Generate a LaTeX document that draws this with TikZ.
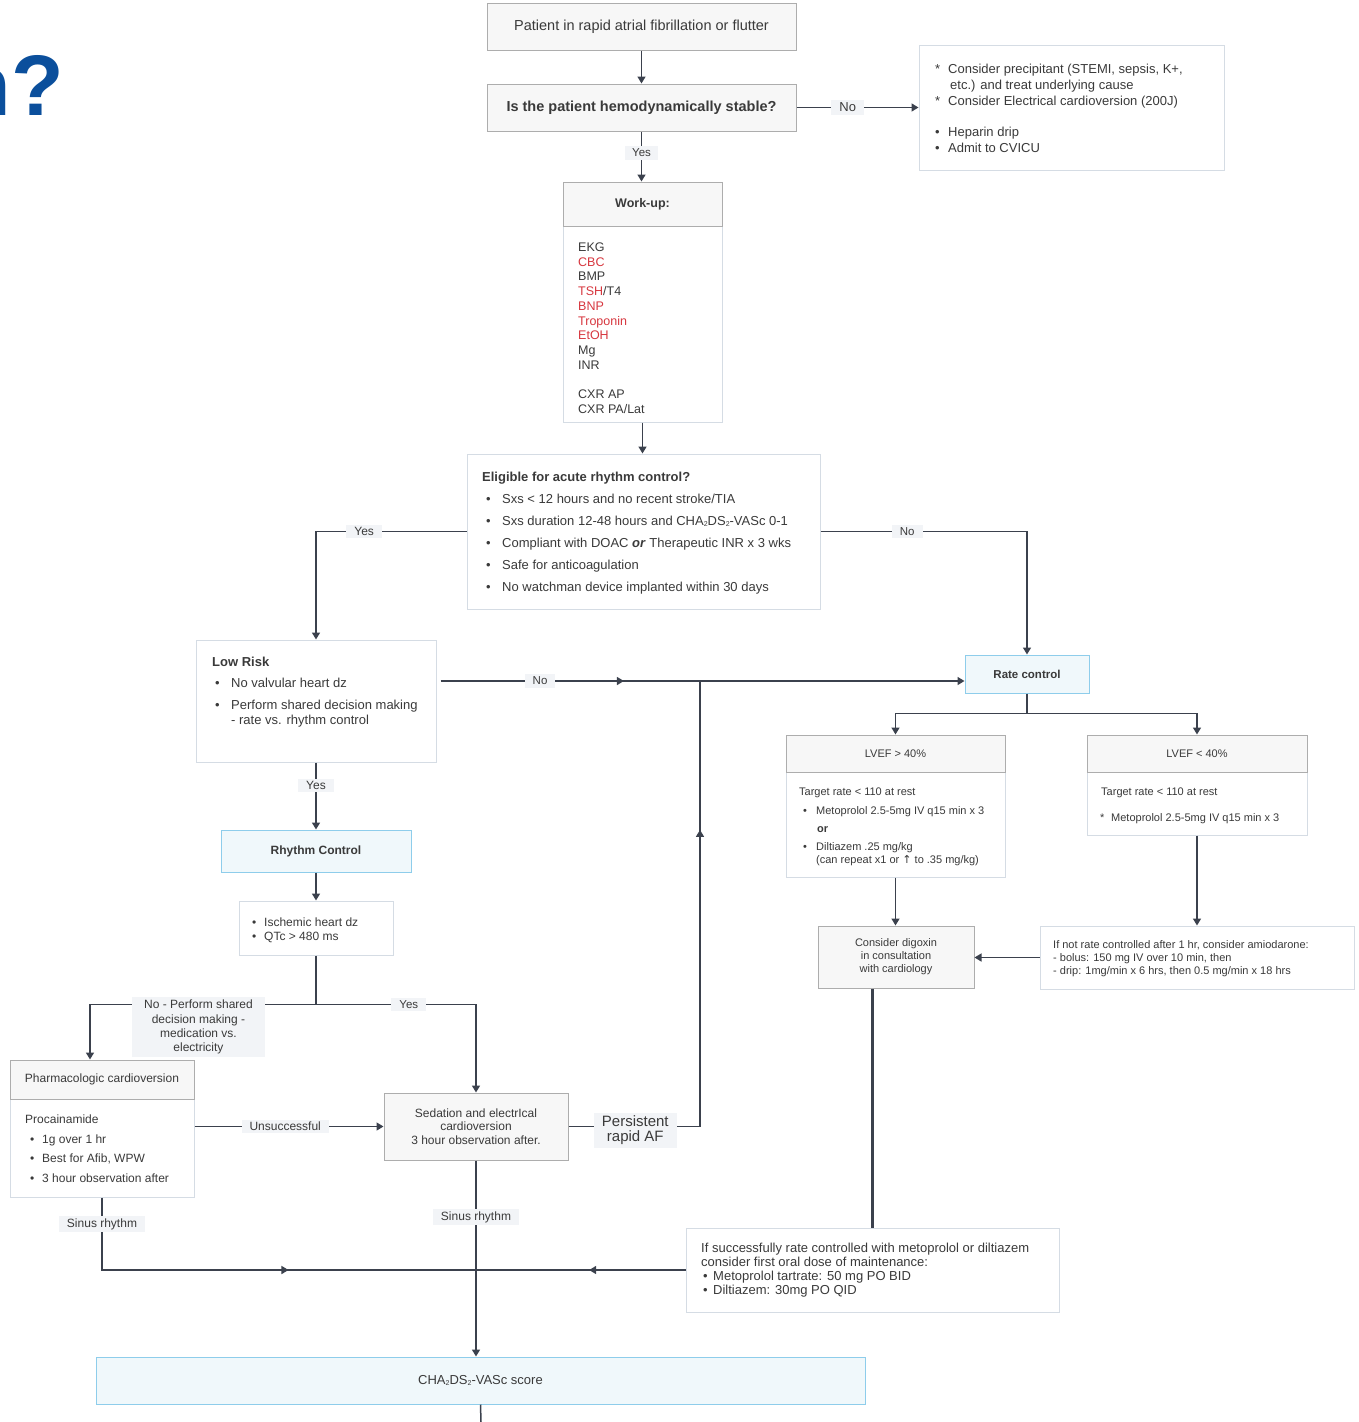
\documentclass[tikz,border=0pt]{standalone}
\usepackage{fontspec}
\setmainfont{Liberation Sans}
\newfontfamily\djv{DejaVu Sans}
\usetikzlibrary{arrows.meta,calc,decorations.markings}
\definecolor{lnc}{HTML}{3B414D}
\definecolor{gbd}{HTML}{ADADAD}
\definecolor{gfill}{HTML}{F7F7F7}
\definecolor{wbd}{HTML}{D5DCE4}
\definecolor{bbd}{HTML}{8ECDEB}
\definecolor{bfill}{HTML}{F0F8FB}
\definecolor{lblbg}{HTML}{F2F4F7}
\definecolor{txt}{HTML}{3A3A3A}
\definecolor{redt}{HTML}{D7373F}
\definecolor{qblue}{HTML}{0B4F9C}
\newcommand\bul[1]{\makebox[#1][l]{•}}
\newcommand\str[1]{\makebox[#1][l]{*}}
\newcommand\subtwo{\raisebox{-1.2pt}{\fontsize{7}{8}\selectfont 2}}
\begin{document}
\begin{tikzpicture}[x=1pt,y=-1pt,
 ln/.style={draw=lnc, line width=1.5pt},
 arr/.style={ln, -{Triangle[length=7pt,width=8pt]}},
 midarr/.style={postaction={decorate}, decoration={markings, mark=at position #1 with {\arrow{Triangle[length=7pt,width=8pt]}}}},
 gbox/.style={draw=gbd, fill=gfill, line width=1pt, inner sep=0pt, text=txt, align=center},
 wbox/.style={draw=wbd, fill=white, line width=1pt, inner sep=0pt, text=txt, align=center},
 bbox/.style={draw=bbd, fill=bfill, line width=1pt, inner sep=0pt, text=txt, align=center},
 sz/.style 2 args={minimum width=#1, minimum height=#2},
 lbl/.style={fill=lblbg, inner xsep=8pt, inner ysep=2.5pt, text=txt, align=center},
 tx/.style={inner sep=0pt, text=txt, anchor=base west, align=left}
]
\useasboundingbox (0,0) rectangle (1358,1422);
\clip (0,0) rectangle (1358,1422);

% title fragment
\node[anchor=base east, inner sep=0pt, text=qblue, font=\fontsize{86}{90}\selectfont\bfseries] (ttl) at (64,115) {n?};

% boxes (multi-line text nodes are anchored at the baseline of their last line)
\node[gbox, sz={309}{47}, font=\fontsize{14.5}{16}\selectfont] (A) at (641.5,26.5) {Patient in rapid atrial fibrillation or flutter};
\node[gbox, sz={309}{47}, font=\fontsize{14.5}{16}\selectfont\bfseries] (B) at (641.5,107.5) {Is the patient hemodynamically stable?};

\node[wbox, sz={305}{125}] (C) at (1071.5,107.5) {};
\node[tx, font=\fontsize{13}{15.8}\selectfont] (Ct) at (935,152.7) {\str{13pt}Consider precipitant (STEMI, sepsis, K+,\\\hspace*{15pt}etc.) and treat underlying cause\\\str{13pt}Consider Electrical cardioversion (200J)\\[15.8pt]\bul{13pt}Heparin drip\\\bul{13pt}Admit to CVICU};

\node[wbox, sz={159}{240}] (D) at (642.5,302) {};
\node[gbox, sz={159}{44}, anchor=north, font=\fontsize{12.5}{14}\selectfont\bfseries] (Dh) at (D.north) {Work-up:};
\node[tx, font=\fontsize{12.5}{14.7}\selectfont] (Dt) at (578,413.2) {EKG\\\textcolor{redt}{CBC}\\BMP\\\textcolor{redt}{TSH}/T4\\\textcolor{redt}{BNP}\\\textcolor{redt}{Troponin}\\\textcolor{redt}{EtOH}\\Mg\\INR\\[14.7pt]CXR AP\\CXR PA/Lat};

\node[wbox, sz={353}{155}] (E) at (643.5,531.5) {};
\node[tx, font=\fontsize{13}{16}\selectfont\bfseries] (Et) at (482,481.7) {Eligible for acute rhythm control?};
\node[tx, font=\fontsize{13}{22}\selectfont] (Eb) at (486,591.7) {\bul{16pt}Sxs < 12 hours and no recent stroke/TIA\\\bul{16pt}Sxs duration 12-48 hours and CHA\subtwo DS\subtwo-VASc 0-1\\\bul{16pt}Compliant with DOAC \textbf{\textit{or}} Therapeutic INR x 3 wks\\\bul{16pt}Safe for anticoagulation\\\bul{16pt}No watchman device implanted within 30 days};

\node[wbox, sz={240}{122}] (F) at (316,701) {};
\node[tx, font=\fontsize{13}{16}\selectfont\bfseries] (Ft) at (212,666.7) {Low Risk};
\node[tx, font=\fontsize{13}{15}\selectfont] (Fb1) at (215,687.7) {\bul{16pt}No valvular heart dz};
\node[tx, font=\fontsize{13}{15}\selectfont] (Fb2) at (215,724.7) {\bul{16pt}Perform shared decision making\\\hspace*{16pt}- rate vs. rhythm control};

\node[bbox, sz={124}{38}, font=\fontsize{11.5}{13}\selectfont\bfseries] (G) at (1027,674) {Rate control};

\node[wbox, sz={219}{142}] (H) at (895.5,806) {};
\node[gbox, sz={219}{37}, anchor=north, font=\fontsize{11}{13}\selectfont] (Hh) at (H.north) {LVEF > 40\%};
\node[tx, font=\fontsize{11}{13}\selectfont] (Ht1) at (799,795) {Target rate < 110 at rest};
\node[tx, font=\fontsize{11}{13}\selectfont] (Ht2) at (803,814) {\bul{13pt}Metoprolol 2.5-5mg IV q15 min x 3};
\node[tx, font=\fontsize{11}{13}\selectfont\bfseries] (Ht3) at (817,832) {or};
\node[tx, font=\fontsize{11}{13}\selectfont] (Ht4) at (803,863) {\bul{13pt}Diltiazem .25 mg/kg\\\hspace*{13pt}(can repeat x1 or {\djv ↑} to .35 mg/kg)};

\node[wbox, sz={220}{100}] (I) at (1197,785) {};
\node[gbox, sz={220}{37}, anchor=north, font=\fontsize{11}{13}\selectfont] (Ih) at (I.north) {LVEF < 40\%};
\node[tx, font=\fontsize{11}{13}\selectfont] (It1) at (1101,795) {Target rate < 110 at rest};
\node[tx, font=\fontsize{11}{13}\selectfont] (It2) at (1100,821) {\str{11pt}Metoprolol 2.5-5mg IV q15 min x 3};

\node[gbox, sz={156}{62}, font=\fontsize{11}{13}\selectfont] (J) at (896,957) {Consider digoxin\\in consultation\\with cardiology};
\node[wbox, sz={314}{63}] (K) at (1197,957.5) {};
\node[tx, font=\fontsize{11}{13}\selectfont] (Kt) at (1053,974) {If not rate controlled after 1 hr, consider amiodarone:\\- bolus: 150 mg IV over 10 min, then\\- drip: 1mg/min x 6 hrs, then 0.5 mg/min x 18 hrs};

\node[wbox, sz={373}{84}] (L) at (872.5,1270) {};
\node[tx, font=\fontsize{13}{14}\selectfont] (Lt) at (701,1294.7) {If successfully rate controlled with metoprolol or diltiazem\\consider first oral dose of maintenance:\\\hspace*{2pt}\bul{10pt}Metoprolol tartrate: 50 mg PO BID\\\hspace*{2pt}\bul{10pt}Diltiazem: 30mg PO QID};

\node[bbox, sz={190}{42}, font=\fontsize{12}{14}\selectfont\bfseries] (M) at (316,851) {Rhythm Control};
\node[wbox, sz={154}{54}] (N) at (316,928) {};
\node[tx, font=\fontsize{12}{14}\selectfont] (Nt) at (252,940.3) {\bul{12pt}Ischemic heart dz\\\bul{12pt}QTc > 480 ms};

\node[wbox, sz={184}{137}] (O) at (102,1128.5) {};
\node[gbox, sz={184}{39}, anchor=north, font=\fontsize{12}{14}\selectfont] (Oh) at (O.north) {Pharmacologic cardioversion};
\node[tx, font=\fontsize{12}{14}\selectfont] (Ot) at (25,1123.3) {Procainamide};
\node[tx, font=\fontsize{12}{19.5}\selectfont] (Ob) at (30,1182.3) {\bul{12pt}1g over 1 hr\\\bul{12pt}Best for Afib, WPW\\\bul{12pt}3 hour observation after};

\node[gbox, sz={184}{67}, font=\fontsize{12}{13.5}\selectfont] (P) at (476,1126.5) {Sedation and electrIcal\\cardioversion\\3 hour observation after.};

\node[bbox, sz={769}{47}, font=\fontsize{13}{15}\selectfont] (Q) at (480.5,1380.5) {CHA\subtwo DS\subtwo-VASc score};

% connectors
\draw[arr] (A.south) -- (B.north);
\draw[arr] (B.east) -- node[lbl, pos=.42, font=\fontsize{13}{15}\selectfont]{No} (C.west);
\draw[arr] (B.south) -- node[lbl, pos=.43, inner xsep=7pt, font=\fontsize{11.5}{13}\selectfont]{Yes} (B.south |- D.north);
\draw[arr] (D.south) -- (D.south |- E.north);
\draw[arr] (E.west) -| node[lbl, pos=.34, font=\fontsize{12}{14}\selectfont]{Yes} (F.north);
\draw[arr] (E.east) -| node[lbl, pos=.21, font=\fontsize{11.5}{13}\selectfont]{No} (G.north);
\coordinate (fno) at ($(F.east)+(4,-20)$);
\draw[arr, midarr=.35] (fno) -- node[lbl, pos=.19, font=\fontsize{11.5}{13}\selectfont]{No} (fno -| G.west);
\coordinate (gs) at ($(G.south)+(0,20)$);
\draw[ln] (G.south) -- (gs);
\draw[arr] (gs) -| (H.north);
\draw[arr] (gs) -| (I.north);
\draw[arr] (H.south) -- (H.south |- J.north);
\draw[arr] (I.south) -- (K.north);
\draw[arr] (K.west) -- (K.west -| J.east);
\draw[ln, line width=2.3pt] (L.north |- J.south) -- (L.north);
\draw[ln, midarr=.46] (L.west) -- (L.west -| P.south);
\draw[arr] (P.south) -- node[lbl, pos=.29, font=\fontsize{12}{14}\selectfont]{Sinus rhythm} (P.south |- Q.north);
\draw[ln, midarr=.58] (O.south) |- node[lbl, pos=.185, font=\fontsize{12}{14}\selectfont]{Sinus rhythm} (L.west -| P.south);
\coordinate (xp) at (700,0);
\draw[ln, midarr=.742] (P.east) -| node[lbl, pos=.254, yshift=-4pt, inner ysep=3pt, font=\fontsize{15}{15}\selectfont]{Persistent\\rapid AF} (xp |- fno);
\draw[arr] (F.south) -- node[lbl, pos=.34, font=\fontsize{12}{14}\selectfont]{Yes} (M.north);
\draw[arr] (M.south) -- (N.north);
\coordinate (ns) at ($(N.south)+(0,49)$);
\draw[ln] (N.south) -- (ns);
\draw[arr] (ns) -| node[lbl, pos=.26, anchor=north, yshift=8pt, inner xsep=12pt, inner ysep=3pt, font=\fontsize{12}{14.3}\selectfont]{No - Perform shared\\decision making -\\medication vs.\\electricity} ($(O.north)+(-12,0)$);
\draw[arr] (ns) -| node[lbl, pos=.29, font=\fontsize{11.5}{13}\selectfont]{Yes} (P.north);
\draw[arr] (P.west -| O.east) -- node[lbl, pos=.48, font=\fontsize{12}{14}\selectfont]{Unsuccessful} (P.west);
\coordinate (qe) at (481,1422);
\draw[ln] (Q.south) -- (qe);
\end{tikzpicture}
\end{document}
